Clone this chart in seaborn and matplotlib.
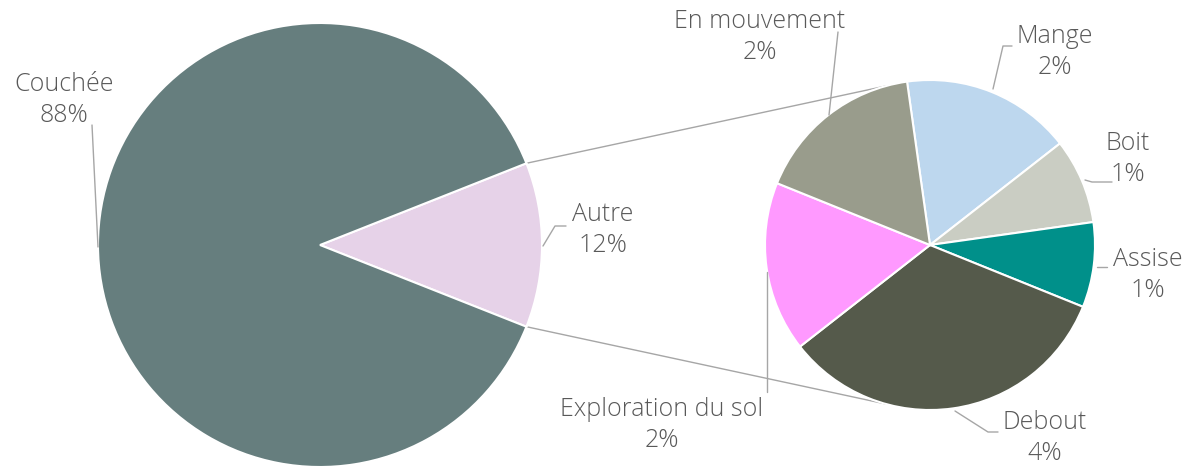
import numpy as np
import matplotlib
matplotlib.use("Agg")
import matplotlib.pyplot as plt
import seaborn as sns

# Main pie
main_labels = ["Autre", "Couchée"]
main_values = [12, 88]
main_colors = ["#e6d2e8", "#667e7e"]

# Secondary pie (breakdown of "Autre")
sub_labels = ["Mange", "Boit", "Assise", "Debout", "Exploration du sol", "En mouvement"]
sub_values = [2, 1, 1, 4, 2, 2]
sub_colors = ["#bdd7ee", "#cacdc3", "#00908a", "#555a4b", "#ff99ff", "#999c8c"]

sns.set_style("white")
plt.rcParams["font.family"] = ["Open Sans", "DejaVu Sans"]

W, H = 1195, 471
fig = plt.figure(figsize=(W / 100, H / 100), dpi=100)
ax = fig.add_axes([0, 0, 1, 1])

text_color = "#595959"
line_color = "#a6a6a6"

# pixel -> data helper (y flipped)
def p(x, y):
    return (x, H - y)

c1, r1 = p(320, 245), 222
c2, r2 = p(930, 245), 165

autre_angle = main_values[0] / sum(main_values) * 360
ax.pie(main_values, colors=main_colors, startangle=-autre_angle / 2,
       counterclock=True, center=c1, radius=r1, frame=True,
       wedgeprops=dict(edgecolor="white", linewidth=1.5))
ax.pie(sub_values, colors=sub_colors, startangle=98, counterclock=False,
       center=c2, radius=r2, frame=True,
       wedgeprops=dict(edgecolor="white", linewidth=1.5))
ax.set_xlim(0, W)
ax.set_ylim(0, H)
ax.set_aspect("equal")
ax.axis("off")

# connector lines from the "Autre" wedge to the secondary pie
for sgn in (1, -1):
    a1 = np.deg2rad(sgn * autre_angle / 2)
    a2 = np.deg2rad(180 - sgn * 74.5)
    x0, y0 = c1[0] + r1 * np.cos(a1), c1[1] + r1 * np.sin(a1)
    x1, y1 = c2[0] + r2 * np.cos(a2), c2[1] + r2 * np.sin(a2)
    ax.plot([x0, x1], [y0, y1], color=line_color, lw=1.0, zorder=0)

# labels: text center, leader line points (pixel coordinates)
label_pos = {
    "Couchée": ((64, 100), [(98, 247), (92, 125)]),
    "Autre": ((603, 230), [(543, 246), (555, 226), (566, 226)]),
    "En mouvement": ((760, 37), [(829, 115), (838, 32)]),
    "Mange": ((1055, 52), [(993, 89), (1003, 46), (1012, 46)]),
    "Boit": ((1128, 159), [(1085, 180), (1092, 182), (1112, 182)]),
    "Assise": ((1148, 275), [(1097, 267), (1107, 267)]),
    "Debout": ((1045, 438), [(955, 411), (988, 432), (998, 432)]),
    "Exploration du sol": ((662, 425), [(767, 272), (767, 392)]),
}
values = dict(zip(main_labels + sub_labels, main_values + sub_values))
for name, (pos, pts) in label_pos.items():
    ax.text(*p(*pos), f"{name}\n{values[name]}%", ha="center", va="center",
            fontsize=18, fontweight="light", color=text_color, linespacing=1.3)
    xs, ys = zip(*[p(*q) for q in pts])
    ax.plot(xs, ys, color=line_color, lw=1.0, zorder=5)

fig.savefig("out.png", dpi=100)
